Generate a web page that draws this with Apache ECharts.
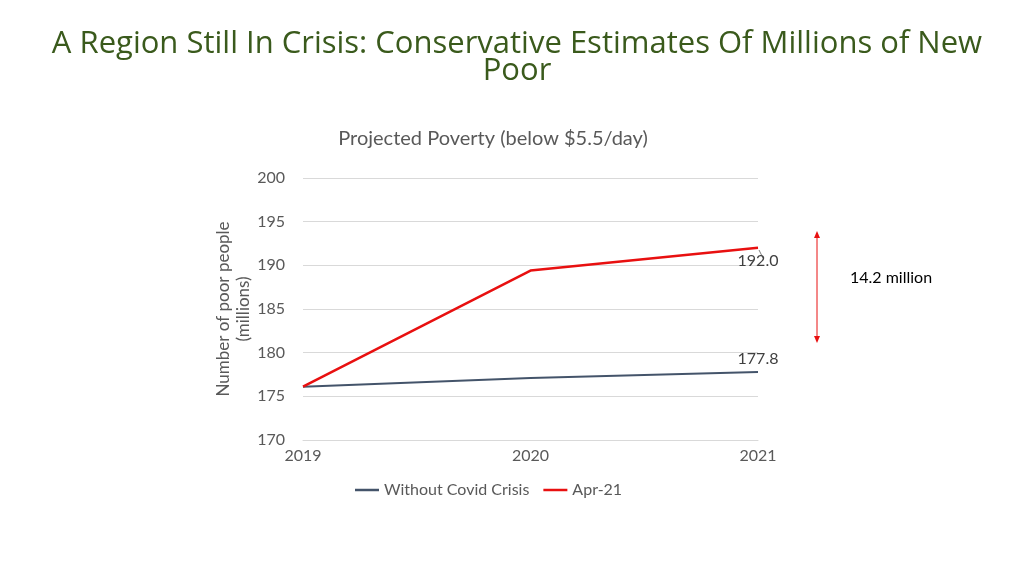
<!DOCTYPE html><html><head><meta charset="utf-8"><script src="https://cdn.jsdelivr.net/npm/echarts@6/dist/echarts.min.js"></script></head><body style="margin:0"><div id="c" style="width:1024px;height:575px"></div><script>
const years=['2019','2020','2021'];
const withoutCovid=[176.1,177.1,177.8];
const apr21=[176.1,189.4,192.0];
const c=echarts.init(document.getElementById('c'));
const f='Lato';
c.setOption({animation:false,
title:[{text:'A Region Still In Crisis: Conservative Estimates Of Millions of New\nPoor',left:512,textAlign:'center',top:26,textStyle:{fontFamily:'Open Sans',fontWeight:'normal',fontSize:31,color:'#3a5a1c',lineHeight:27}},
{text:'Projected Poverty (below $5.5/day)',left:488,textAlign:'center',top:124,textStyle:{fontFamily:f,fontWeight:'normal',fontSize:20,color:'#595959'}}],
legend:{bottom:72,left:350,itemGap:14,icon:'rect',itemWidth:24,itemHeight:2.5,textStyle:{fontFamily:f,fontSize:16,color:'#595959'},data:['Without Covid Crisis','Apr-21']},
grid:{left:303,right:266,top:178,bottom:135},
xAxis:{type:'category',data:years,boundaryGap:false,axisTick:{show:false},axisLine:{lineStyle:{color:'#d9d9d9'}},axisLabel:{fontFamily:f,fontSize:16,color:'#595959',margin:8}},
yAxis:{type:'value',min:170,max:200,interval:5,name:'Number of poor people\n(millions)',nameLocation:'middle',nameGap:42,nameTextStyle:{fontFamily:f,fontSize:17,color:'#595959',lineHeight:20},axisLabel:{fontFamily:f,fontSize:16,color:'#595959',margin:18},splitLine:{lineStyle:{color:'#d9d9d9'}}},
series:[{name:'Without Covid Crisis',type:'line',data:withoutCovid,symbol:'circle',symbolSize:0.1,lineStyle:{color:'#44546a',width:2},itemStyle:{color:'#44546a'},labelLayout:{hideOverlap:false},
label:{show:true,formatter:p=>p.dataIndex==2?p.value.toFixed(1):'',position:'top',offset:[18,-2],fontFamily:f,fontSize:16,color:'#404040'}},
{name:'Apr-21',type:'line',data:apr21,symbol:'circle',symbolSize:0.1,lineStyle:{color:'#e81010',width:2.5},itemStyle:{color:'#e81010'},labelLayout:{hideOverlap:false},
label:{show:true,formatter:p=>p.dataIndex==2?p.value.toFixed(1):'',position:'bottom',offset:[24,6],fontFamily:f,fontSize:16,color:'#404040'}}],
graphic:[{type:'line',shape:{x1:817,y1:236,x2:817,y2:338},style:{stroke:'#e81010',lineWidth:1}},
{type:'polygon',shape:{points:[[817,231],[814,238],[820,238]]},style:{fill:'#e81010'}},
{type:'polygon',shape:{points:[[817,343],[814,336],[820,336]]},style:{fill:'#e81010'}},
{type:'line',shape:{x1:759,y1:250,x2:763,y2:258},style:{stroke:'#7f7f7f',lineWidth:1}},
{type:'text',left:850,top:270,style:{text:'14.2 million',font:'16px Lato',fill:'#000'}}]
});
</script></body></html>
